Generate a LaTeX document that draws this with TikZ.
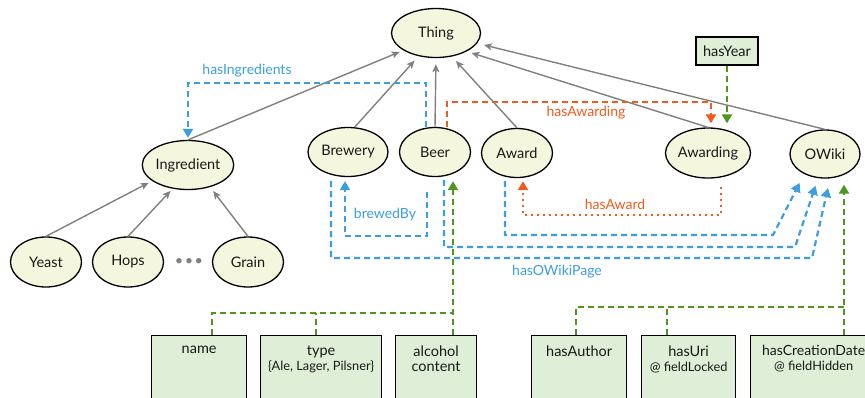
\documentclass[tikz,border=0pt]{standalone}
\usepackage{fontspec}
\setmainfont{Lato}
\usetikzlibrary{arrows.meta,shapes.geometric}
\definecolor{ellfill}{RGB}{244,246,222}
\definecolor{boxfill}{RGB}{223,238,214}
\definecolor{cblue}{RGB}{60,158,222}
\definecolor{corange}{RGB}{238,92,30}
\definecolor{cgreen}{RGB}{78,150,32}
\definecolor{cgrey}{RGB}{128,128,128}
\definecolor{ctext}{RGB}{25,25,25}
\newcommand\attrtxt[2]{\begin{minipage}[c][64pt][t]{#1}\centering #2\end{minipage}}
\newcommand\smalltxt{\fontsize{12.8}{14}\selectfont}
\begin{document}
\begin{tikzpicture}[x=1pt,y=-1pt,
  every node/.style={font=\fontsize{14.5}{18}\selectfont, text=ctext},
  cls/.style={ellipse, draw=black, line width=1.3pt, fill=ellfill, inner sep=0pt, minimum height=49pt},
  attr/.style={draw=black, line width=1.3pt, fill=boxfill, inner xsep=0pt, inner ysep=10pt, anchor=north west},
  isa/.style={draw=cgrey, line width=1.4pt, -{Stealth[length=8pt,width=7pt,inset=2pt]}},
  bluedash/.style={draw=cblue, line width=2.2pt, dash pattern=on 6pt off 4pt, -{Triangle[length=9pt,width=10pt]}},
  orangedash/.style={draw=corange, line width=2.2pt, dash pattern=on 6pt off 4pt, -{Triangle[length=9pt,width=10pt]}},
  orangedot/.style={draw=corange, line width=2pt, dash pattern=on 2pt off 4pt, -{Triangle[length=9pt,width=10pt]}},
  greendash/.style={draw=cgreen, line width=2.2pt, dash pattern=on 6pt off 4pt, -{Triangle[length=9pt,width=10pt]}},
  greenline/.style={draw=cgreen, line width=2.2pt, dash pattern=on 6pt off 4pt},
  lbl/.style={font=\fontsize{14}{16}\selectfont}
]
\useasboundingbox (0,0) rectangle (865,397);
\clip (0,0) rectangle (865,397);
\fill[white] (0,0) rectangle (865,397);

% classes
\node[cls, minimum width=89pt] (Thing) at (436,33) {Thing};
\node[cls, minimum width=89pt] (Ingredient) at (188,165) {Ingredient};
\node[cls, minimum width=80pt] (Brewery) at (348,152) {Brewery};
\node[cls, minimum width=71pt] (Beer) at (435,152) {Beer};
\node[cls, minimum width=71pt] (Award) at (517,153) {Award};
\node[cls, minimum width=80pt, minimum height=50pt] (Awarding) at (708,153) {Awarding};
\node[cls, minimum width=70pt, minimum height=48pt] (OWiki) at (825,154) {OWiki};
\node[cls, minimum width=71pt, minimum height=50pt] (Yeast) at (46,262) {Yeast};
\node[cls, minimum width=71pt, minimum height=50pt] (Hops) at (128,262) {Hops};
\node[cls, minimum width=71pt, minimum height=50pt] (Grain) at (248,262) {Grain};
\node[text=cgrey] (dots) at (189,262) {\textbullet\kern1.5pt\textbullet\kern1.5pt\textbullet};

% property boxes
\node[draw=black, line width=1.6pt, fill=boxfill, minimum width=62pt, minimum height=28pt, inner sep=0pt] (hasYear) at (727,51) {hasYear};
\node[attr] (name) at (151,335) {\attrtxt{95pt}{name}};
\node[attr] (type) at (260,335) {\attrtxt{121pt}{type\\[-3pt]{\smalltxt\{Ale, Lager, Pilsner\}}}};
\node[attr] (alcohol) at (395,335) {\attrtxt{81pt}{alcohol\\[-3pt]content}};
\node[attr] (hasAuthor) at (531,335) {\attrtxt{95pt}{hasAuthor}};
\node[attr] (hasUri) at (641,335) {\attrtxt{94pt}{hasUri\\[-3pt]{\smalltxt @ fieldLocked}}};
\node[attr] (hcd) at (750,335) {\attrtxt{126pt}{{\fontsize{14}{18}\selectfont hasCreationDate}\hspace*{10pt}\\[-3pt]{\smalltxt @ fieldHidden}}};

% is-a connectors
\draw[isa, shorten >=4pt] (Ingredient.north) -- (Thing.208);
\draw[isa, shorten >=6pt] (Brewery.75) -- (Thing.233);
\draw[isa, shorten >=6pt] (Beer.north) -- (Thing.south);
\draw[isa, shorten >=6pt] (Award.north) -- (Thing.304);
\draw[isa, shorten >=5pt] (Awarding.north) -- (Thing.329);
\draw[isa, shorten >=7pt] (OWiki.north) -- (Thing.346);
\draw[isa, shorten >=4pt] (Yeast.north) -- (Ingredient.204);
\draw[isa, shorten >=3pt] (Hops.north) -- (Ingredient.237);
\draw[isa, shorten >=5pt] (Grain.north) -- (Ingredient.315);

% hasIngredients
\draw[bluedash, shorten >=2pt] ([xshift=-9pt]Beer.north) -- ++(0,-44) -| (Ingredient.north);
\node[lbl, text=cblue] (lIng) at (247,71) {hasIngredients};

% hasAwarding
\draw[orangedash, shorten >=4pt] ([xshift=12pt]Beer.north) -- ++(0,-25) -| ([xshift=3pt]Awarding.north);
\node[lbl, text=corange] (lAwd) at (586,113) {hasAwarding};

% hasYear
\draw[greendash, shorten >=4pt] (hasYear.south) -- (hasYear.south |- Awarding.north);

% brewedBy
\draw[bluedash, shorten >=4pt] ([xshift=-8pt,yshift=-15pt]Beer.south) -- ++(0,44) -| ([xshift=-3pt]Brewery.south);
\node[lbl, text=cblue] (lBrew) at (385,215) {brewedBy};

% hasAward
\draw[orangedot, shorten >=3pt] ([xshift=13pt,yshift=-8pt]Awarding.south) -- ++(0,28) -| ([xshift=6pt]Award.south);
\node[lbl, text=corange] (lAw) at (615,204) {hasAward};

% hasOWikiPage
\draw[bluedash, shorten >=10pt] ([xshift=-17pt,yshift=-4pt]Brewery.south) |- (812,258) -- (OWiki.282);
\draw[bluedash, shorten >=8pt] ([xshift=9pt,yshift=-3pt]Beer.south) |- (795,247) -- (OWiki.254);
\draw[bluedash, shorten >=10pt] ([xshift=-12pt,yshift=-3pt]Award.south) |- (773,235) -- (OWiki.224);
\node[lbl, text=cblue] (lOW) at (557,272) {hasOWikiPage};

% Beer attributes
\coordinate (bg) at ([xshift=18pt]Beer.south);
\draw[greendash, shorten >=4pt] (bg |- alcohol.north) -- (bg);
\draw[greenline] ([xshift=13pt]name.north) |- (453,313);
\draw[greenline] ([xshift=-5pt]type.north) -- ++(0,-22);

% OWiki attributes
\coordinate (og) at ([xshift=19pt]OWiki.south);
\draw[greendash, shorten >=6pt] (og |- hcd.north) -- (og);
\draw[greenline] ([xshift=-3pt]hasAuthor.north) |- (844,307);
\draw[greenline] ([xshift=-22pt]hasUri.north) -- ++(0,-28);
\end{tikzpicture}
\end{document}
